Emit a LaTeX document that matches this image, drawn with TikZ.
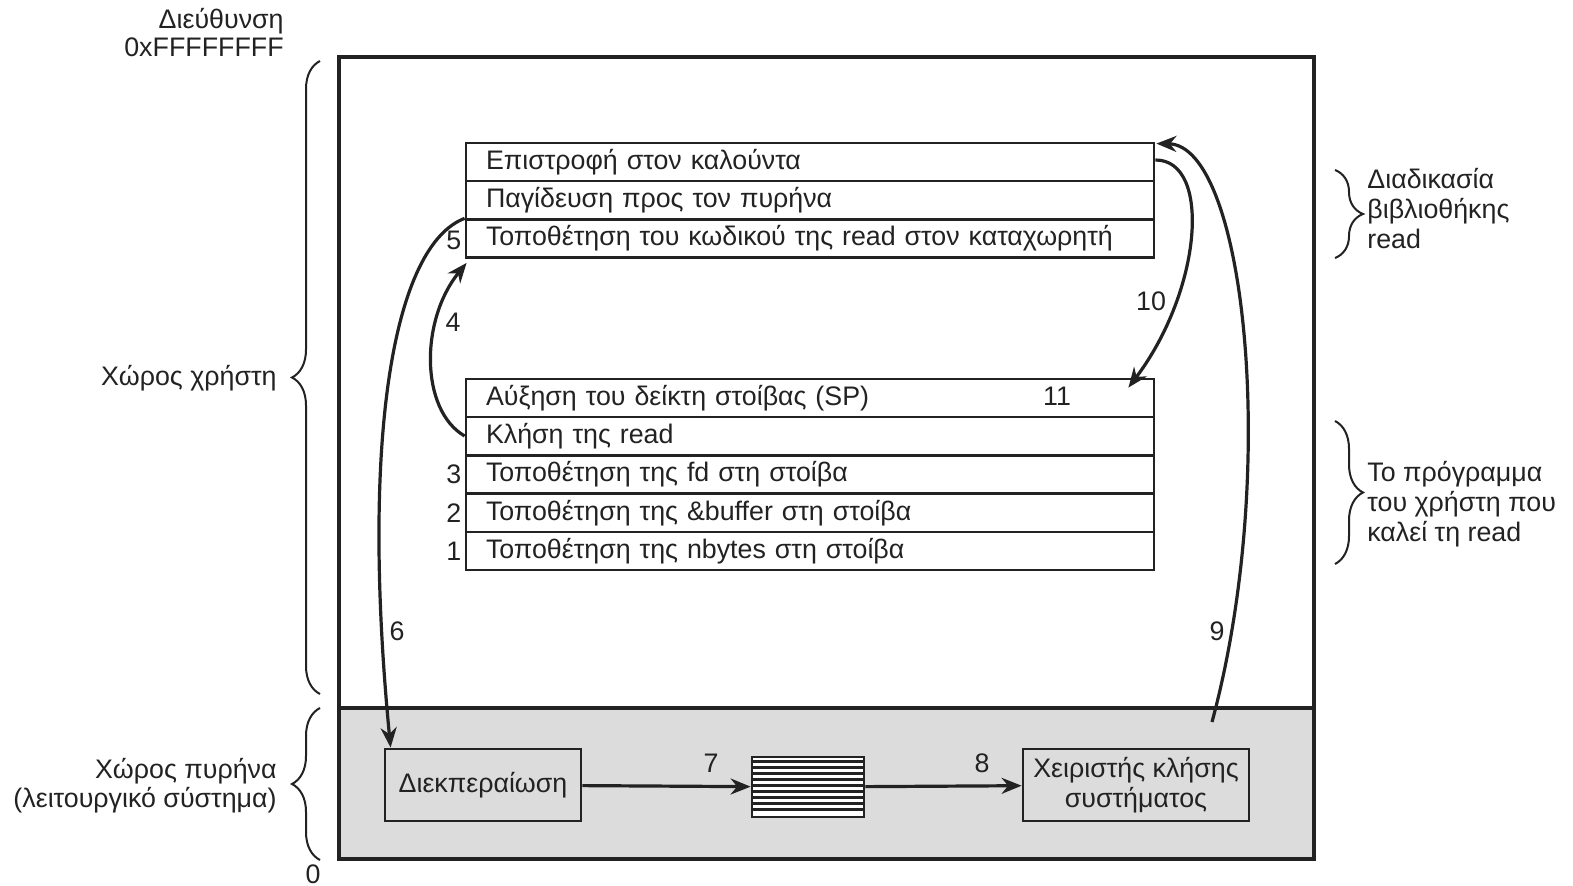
\documentclass[tikz,border=0pt]{standalone}
\usepackage{fontspec}
\setmainfont{Liberation Sans}
\usetikzlibrary{arrows.meta,decorations.pathreplacing,calc}
\definecolor{ink}{HTML}{222222}
\definecolor{kgray}{HTML}{DCDCDC}
\begin{document}
\begin{tikzpicture}[x=0.5pt,y=-0.5pt,
  every node/.style={text=ink, font=\fontsize{13.4}{15}\selectfont},
  row/.style={draw=ink, line width=1.4pt, minimum width=344pt, minimum height=19pt,
    text width=324pt, inner xsep=10pt, inner ysep=0pt, align=left},
  kbox/.style={draw=ink, line width=1.4pt, fill=kgray, align=center, inner sep=2pt},
  num/.style={inner sep=1pt},
  arr/.style={draw=ink, line width=1.6pt, -{Stealth[length=10pt,width=8pt]}},
  brc/.style={draw=ink, line width=1pt, decorate, decoration={brace, amplitude=14pt}},
  sidel/.style={inner sep=0pt}
]
\useasboundingbox (0,0) rectangle (1573,886);

% main box and kernel region
\draw[ink, line width=1.8pt, fill=kgray] (339,708) rectangle (1314,859);
\draw[ink, line width=1.8pt] (339,57) rectangle (1314,859);

% library procedure stack
\node[row] (r1) at (810,162) {Επιστροφή στον καλούντα};
\node[row] (r2) at (810,200) {Παγίδευση προς τον πυρήνα};
\node[row] (r3) at (810,238.5) {Τοποθέτηση του κωδικού της read στον καταχωρητή};

% user program stack
\node[row] (s1) at (810,398) {Αύξηση του δείκτη στοίβας (SP)};
\node[row] (s2) at (810,436) {Κλήση της read};
\node[row] (s3) at (810,474.5) {Τοποθέτηση της fd στη στοίβα};
\node[row] (s4) at (810,513) {Τοποθέτηση της \&buffer στη στοίβα};
\node[row] (s5) at (810,551) {Τοποθέτηση της nbytes στη στοίβα};

% step numbers at rows
\node[num, anchor=east] (n5) at ($(r3.west)+(-1,2)$) {5};
\node[num, anchor=east] (n3) at ($(s3.west)+(-1,0)$) {3};
\node[num, anchor=east] (n2) at ($(s4.west)+(-1,0)$) {2};
\node[num, anchor=east] (n1) at ($(s5.west)+(-1,0)$) {1};
\node[num] (n11) at (1057,396) {11};

% kernel boxes
\node[kbox, minimum width=98pt, minimum height=36pt] (disp) at (483,785) {Διεκπεραίωση};
\node[draw=ink, line width=1.4pt, fill=white, minimum width=56pt, minimum height=30pt, inner sep=0pt] (q) at (808,787) {};
\foreach \k in {1,...,9} {
  \draw[ink, line width=1.3pt] ($(q.north west)+(0,6*\k)$) -- ($(q.north east)+(0,6*\k)$);
}
\node[kbox, minimum width=113pt, minimum height=36pt] (hand) at (1136,785) {Χειριστής κλήσης\\συστήματος};

% arrows 7, 8
\draw[arr] (disp) -- (q);
\draw[arr] (q) -- (hand);
\node[num] (n7) at (711,763) {7};
\node[num] (n8) at (982,763) {8};

% arrow 6
\draw[arr] ($(r2.south west)+(0,-2)$) .. controls (395,245) and (360,430) .. ($(disp.north west)+(7,0)$);
\node[num] (n6) at (397,631) {6};

% arrow 4
\draw[arr] (s2.west) .. controls (420,410) and (420,320) .. ($(r3.south west)+(2,4)$);
\node[num] (n4) at (453,322) {4};

% arrow 10
\coordinate (t11) at ($(s1.north east)+(-27,10)$);
\draw[arr] ($(r1.east)+(0,-2)$) .. controls (1212,160) and (1202,290) .. (t11);
\node[num] (n10) at (1151,301) {10};

% arrow 9
\coordinate (c9) at (1212,722);
\draw[arr] (c9) .. controls (1280,470) and (1245,145) .. ($(r1.north east)+(1,2)$);
\node[num] (n9) at (1217,631) {9};

% left braces
\draw[brc] (320,694) -- (320,61);
\draw[brc] (320,860) -- (320,708);
% right braces
\draw[brc] (1335,170) -- (1335,258);
\draw[brc] (1335,421) -- (1335,564);

% left labels
\node[sidel, anchor=base east] (a1) at (284,29) {Διεύθυνση};
\node[sidel, anchor=base east] (a2) at (284,57) {0xFFFFFFFF};
\node[sidel, anchor=base east] (u1) at (277,386) {Χώρος χρήστη};
\node[sidel, anchor=base east] (k1) at (277,778) {Χώρος πυρήνα};
\node[sidel, anchor=base east] (k2) at (277,807) {(λειτουργικό σύστημα)};
\node[sidel] (z0) at (313,874) {0};

% right labels
\node[sidel, anchor=base west] (b1) at (1367,189) {Διαδικασία};
\node[sidel, anchor=base west] (b2) at (1367,219) {βιβλιοθήκης};
\node[sidel, anchor=base west] (b3) at (1367,249) {read};
\node[sidel, anchor=base west] (p1) at (1367,482) {Το πρόγραμμα};
\node[sidel, anchor=base west] (p2) at (1367,512) {του χρήστη που};
\node[sidel, anchor=base west] (p3) at (1367,542) {καλεί τη read};
\end{tikzpicture}
\end{document}
